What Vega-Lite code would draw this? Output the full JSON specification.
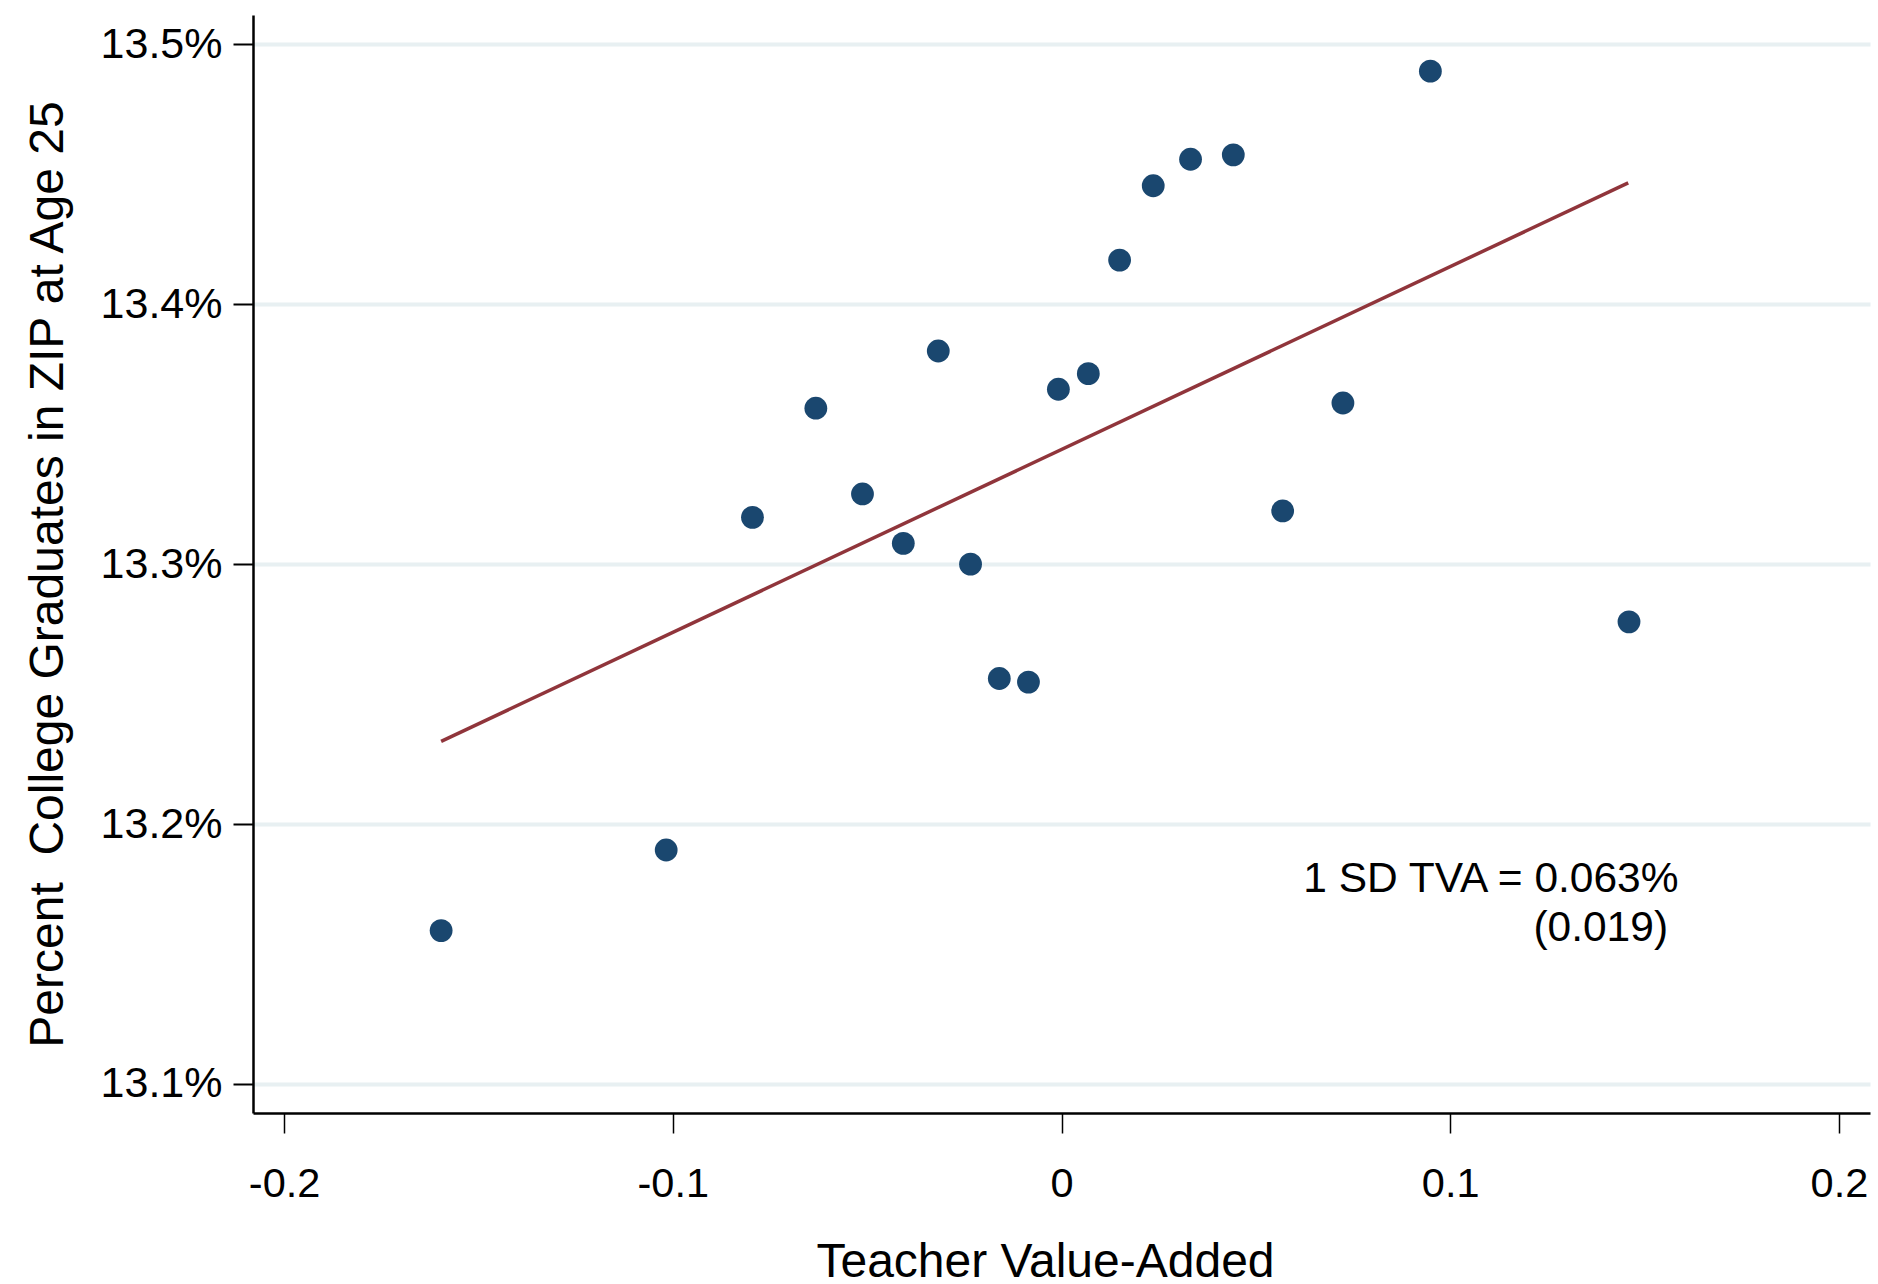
{
  "$schema": "https://vega.github.io/schema/vega-lite/v6.json",
  "width": 1617,
  "height": 1098,
  "autosize": {"type": "none"},
  "padding": {"left": 253, "top": 15, "right": 8, "bottom": 171},
  "background": "white",
  "config": {
    "view": {"stroke": null},
    "font": "Liberation Sans",
    "axis": {
      "labelFont": "Liberation Sans",
      "titleFont": "Liberation Sans",
      "labelColor": "black",
      "titleColor": "black",
      "titleFontWeight": "normal",
      "domainColor": "black",
      "tickColor": "black"
    }
  },
  "datasets": {
    "bins": [
      {"tva": -0.1596, "pct": 13.159},
      {"tva": -0.1017, "pct": 13.190},
      {"tva": -0.0795, "pct": 13.318},
      {"tva": -0.0632, "pct": 13.360},
      {"tva": -0.0512, "pct": 13.327},
      {"tva": -0.0407, "pct": 13.308},
      {"tva": -0.0317, "pct": 13.382},
      {"tva": -0.0234, "pct": 13.300},
      {"tva": -0.0160, "pct": 13.256},
      {"tva": -0.0085, "pct": 13.2546},
      {"tva": -0.0008, "pct": 13.3673},
      {"tva": 0.0069, "pct": 13.3733},
      {"tva": 0.01495, "pct": 13.417},
      {"tva": 0.0236, "pct": 13.4456},
      {"tva": 0.0332, "pct": 13.4558},
      {"tva": 0.0442, "pct": 13.4575},
      {"tva": 0.0569, "pct": 13.3205},
      {"tva": 0.0724, "pct": 13.362},
      {"tva": 0.0949, "pct": 13.4897},
      {"tva": 0.1460, "pct": 13.2778}
    ],
    "fit": [
      {"tva": -0.1596, "pct": 13.2318},
      {"tva": 0.1458, "pct": 13.4467}
    ],
    "notes": [
      {"tva": 0.0622, "pct": 13.174, "label": "1 SD TVA = 0.063%"},
      {"tva": 0.1214, "pct": 13.1548, "label": "(0.019)"}
    ]
  },
  "encoding": {
    "x": {
      "field": "tva",
      "type": "quantitative",
      "scale": {"domain": [-0.208, 0.208], "nice": false, "zero": false},
      "axis": {
        "title": "Teacher Value-Added",
        "values": [-0.2, -0.1, 0, 0.1, 0.2],
        "labelExpr": "datum.value < -0.001 ? '-' + format(-datum.value, '.1f') : (abs(datum.value) < 0.001 ? '0' : format(datum.value, '.1f'))",
        "labelFontSize": 41.5,
        "labelPadding": 30,
        "labelFlush": false,
        "tickSize": 20,
        "tickWidth": 1.5,
        "domainWidth": 2.5,
        "grid": false,
        "titleFontSize": 48,
        "titleX": 792,
        "titleY": 163,
        "titleAlign": "center",
        "titleBaseline": "alphabetic"
      }
    },
    "y": {
      "field": "pct",
      "type": "quantitative",
      "scale": {"domain": [13.0888, 13.5113], "nice": false, "zero": false},
      "axis": {
        "title": "Percent\u00a0 College Graduates in ZIP at Age 25",
        "values": [13.1, 13.2, 13.3, 13.4, 13.5],
        "labelExpr": "format(datum.value, '.1f') + '%'",
        "labelFontSize": 43,
        "labelPadding": 11,
        "labelFlush": false,
        "tickSize": 20,
        "tickWidth": 2,
        "domainWidth": 2.5,
        "grid": true,
        "gridColor": "#E8F0F2",
        "gridWidth": 4,
        "titleFontSize": 48,
        "titleAngle": -90,
        "titleX": -191,
        "titleY": 559,
        "titleAlign": "center",
        "titleBaseline": "alphabetic"
      }
    }
  },
  "layer": [
    {
      "data": {"name": "bins"},
      "mark": {"type": "circle", "color": "#1A476F", "opacity": 1, "size": 520}
    },
    {
      "data": {"name": "fit"},
      "mark": {"type": "line", "color": "#90353B", "strokeWidth": 3.5}
    },
    {
      "data": {"name": "notes"},
      "mark": {"type": "text", "align": "left", "baseline": "alphabetic", "fontSize": 42.5, "color": "black", "font": "Liberation Sans"},
      "encoding": {"text": {"field": "label", "type": "nominal"}}
    }
  ]
}
